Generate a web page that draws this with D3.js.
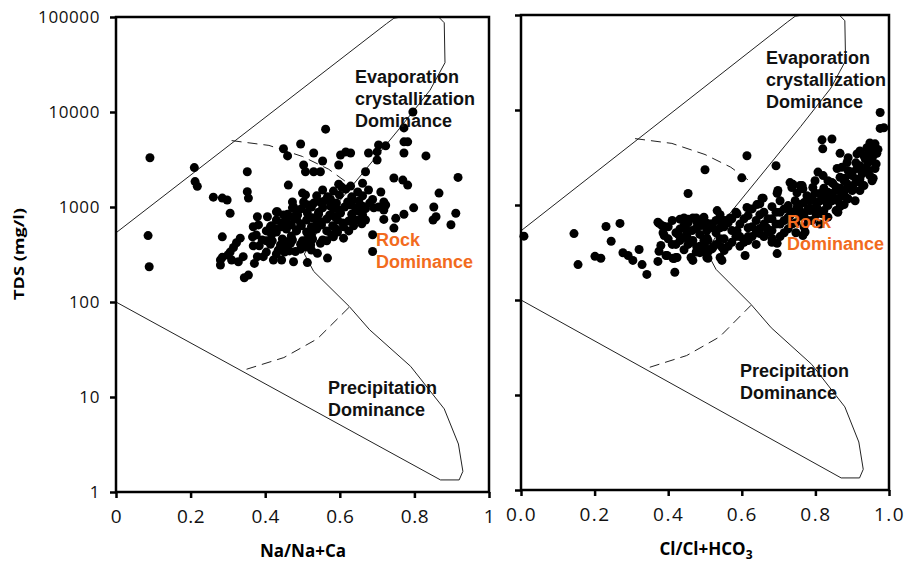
<!DOCTYPE html>
<html>
<head>
<meta charset="utf-8">
<title>Gibbs diagram</title>
<script src="https://d3js.org/d3.v7.min.js"></script>
<style>
  body { margin: 0; background: #fff; }
  svg text { font-family: "Open Sans", "Liberation Sans", sans-serif; }
  .tick text { font-family: "Open Sans", sans-serif; fill: #111; }
  .zone { font-family: "Liberation Sans", Arial, sans-serif !important; font-weight: bold; font-size: 18px; }
</style>
</head>
<body>
<script>
// tick values and labels
var tdsTicks = [1, 10, 100, 1000, 10000, 100000];
var ratioTicks = [0, 0.2, 0.4, 0.6, 0.8, 1];

// Gibbs boundary (ratio, TDS mg/l)
var outerBoundary = [
  [0, 535], [0.725, 85000], [0.745, 97000], [0.765, 100000], [0.865, 100000],
  [0.88, 87000], [0.882, 33000], [0.842, 17000], [0.76, 6700], [0.56, 750],
  [0.505, 320], [0.53, 210], [0.625, 90], [0.68, 51], [0.79, 21], [0.88, 7.5],
  [0.918, 3.2], [0.93, 1.65], [0.92, 1.34], [0.87, 1.34], [0, 100]
];
var dashUpper = [[0.31, 5000], [0.41, 4450], [0.5, 3400], [0.57, 2500], [0.62, 1800]];
var dashLower = [[0.35, 19.6], [0.45, 26], [0.54, 41], [0.625, 88]];

// Na/(Na+Ca) vs TDS
var naPoints = [
  [0.091,3300],[0.21,2600],[0.212,1850],[0.218,1650],[0.086,500],[0.089,235],
  [0.352,2350],[0.261,1270],[0.285,1240],[0.298,1185],[0.352,1450],[0.355,1240],
  [0.306,860],[0.285,485],[0.379,790],[0.406,790],[0.368,620],[0.382,648],
  [0.462,1700],[0.50,1400],[0.508,1340],[0.473,1130],[0.476,1000],[0.548,1130],
  [0.433,890],[0.449,825],[0.333,470],[0.323,420],[0.315,375],[0.306,335],
  [0.285,295],[0.28,245],[0.355,192],[0.344,180],[0.379,300],[0.476,265],
  [0.513,260],[0.54,325],[0.567,290],[0.583,485],[0.61,470],[0.562,6600],
  [0.495,4600],[0.449,4100],[0.46,3450],[0.53,3700],[0.554,3050],[0.503,2770],
  [0.508,2350],[0.602,3530],[0.616,3800],[0.629,3700],[0.597,2770],[0.53,2350],
  [0.548,2350],[0.677,3700],[0.70,3800],[0.70,3120],[0.704,4500],[0.723,4400],
  [0.772,4850],[0.782,4850],[0.772,3700],[0.772,6800],[0.796,10000],[0.831,3450],
  [0.669,2350],[0.745,2020],[0.769,1920],[0.782,1700],[0.917,2050],[0.866,1400],
  [0.852,1000],[0.858,790],[0.85,730],[0.911,860],[0.898,650],[0.798,980],
  [0.772,840],[0.75,760],[0.718,740],[0.745,600],[0.688,510],[0.688,340],
  [0.71,1440],[0.718,1130],[0.691,980],[0.669,730],[0.688,1200],[0.723,1050],
  [0.718,930],[0.704,1000],
  [0.28,277],[0.30,312],[0.31,277],[0.328,265],[0.341,300],[0.366,485],
  [0.376,508],[0.368,390],[0.384,390],[0.371,255],[0.395,300],[0.403,335],
  [0.422,277],[0.43,320],[0.444,277],[0.452,335],[0.414,620],[0.43,890],
  [0.597,1740],[0.629,1660],[0.661,1780],
  [0.554,1510],[0.583,1470],[0.616,1540],[0.648,1440],[0.677,1510],
  [0.538,1310],[0.567,1280],[0.599,1340],[0.632,1280],[0.661,1310],
  [0.503,1130],[0.53,1100],[0.559,1160],[0.591,1100],[0.621,1130],[0.651,1160],[0.68,1100],
  [0.473,980],[0.497,960],[0.524,1000],[0.554,980],[0.583,960],[0.613,1000],[0.642,980],[0.669,960],
  [0.46,840],[0.487,825],[0.513,865],[0.543,840],[0.573,825],[0.602,865],[0.632,840],[0.661,825],
  [0.43,730],[0.457,712],[0.484,748],[0.511,730],[0.538,712],[0.565,748],[0.594,730],[0.624,712],[0.648,730],
  [0.417,635],[0.444,620],[0.47,648],[0.497,635],[0.524,620],[0.551,648],[0.581,635],[0.61,620],[0.637,635],
  [0.403,560],[0.43,545],[0.457,585],[0.484,560],[0.511,545],[0.538,585],[0.565,560],[0.594,545],[0.624,560],
  [0.392,450],[0.419,440],[0.446,460],[0.473,450],[0.50,440],[0.527,460],[0.554,450],
  [0.414,405],[0.441,398],[0.468,415],[0.495,405],[0.522,398],[0.548,415],
  [0.435,352],[0.465,345],[0.495,360],[0.524,352],
  [0.484,905],[0.543,880],[0.597,930],[0.651,905],
  [0.444,680],[0.495,665],[0.551,695],[0.608,680],[0.659,665],
  [0.43,590],[0.484,575],[0.538,605],[0.589,590],
  [0.417,510],[0.47,495],[0.524,520],[0.578,510],
  [0.403,440],[0.457,430],[0.511,450],[0.565,440],
  [0.454,390],[0.508,380],[0.481,340],
  [0.473,790],[0.527,770],[0.586,790],[0.634,770],
  [0.575,1210],[0.634,1185],[0.605,1620],
  [0.516,1050],[0.575,1020],[0.629,1050],[0.661,1020]
];

// Cl/(Cl+HCO3) vs TDS
var clPoints = [
  [0.008,470],[0.144,500],[0.155,236],[0.231,594],[0.269,640],[0.245,415],
  [0.201,288],[0.217,275],[0.277,314],[0.291,294],[0.304,261],[0.321,340],
  [0.329,236],[0.342,186],[0.375,640],[0.389,594],[0.389,477],[0.38,375],
  [0.375,326],[0.372,255],[0.394,294],[0.416,273],[0.421,280],[0.418,196],
  [0.427,490],[0.454,1320],[0.50,2350],[0.432,710],[0.443,730],[0.454,710],
  [0.476,730],[0.451,538],[0.451,465],[0.462,280],[0.467,261],[0.489,608],
  [0.503,650],[0.614,3300],[0.60,1930],[0.693,2590],[0.533,873],[0.614,940],
  [0.641,1010],[0.658,1180],[0.696,1330],[0.739,1650],[0.764,1600],[0.818,4850],
  [0.845,4950],[0.82,3900],[0.867,3500],[0.976,9400],[0.976,6400],[0.986,6500],
  [0.948,4500],[0.962,4400],[0.967,3500],[0.97,3850],[0.94,4000],[0.943,3500],
  [0.957,3300],[0.921,3700],[0.913,3450],[0.889,3150],[0.886,2800],[0.872,2500],
  [0.859,2420],[0.935,3080],[0.943,2800],[0.962,2420],[0.948,2040],[0.957,1910],
  [0.94,2420],[0.913,2420],[0.927,2130],[0.921,1730],[0.90,2220],[0.88,1910],
  [0.886,1680],[0.902,1600],[0.90,1420],[0.908,1110],[0.807,2220],[0.821,2040],
  [0.834,1800],[0.848,1680],[0.799,1800],[0.793,1530],[0.799,1340],[0.8125,1320],
  [0.832,1200],[0.845,1320],[0.859,1420],[0.872,1255],[0.861,1110],[0.886,1180],
  [0.731,1720],[0.736,1530],[0.75,1340],[0.758,1600],[0.766,1480],[0.777,1255],
  [0.785,1110],[0.698,1420],[0.704,1110],[0.655,1180],[0.649,1030],[0.587,810],
  [0.745,1110],[0.75,940],[0.723,920],[0.731,774],[0.758,873],[0.785,873],
  [0.804,940],[0.818,810],[0.832,1030],[0.861,840],[0.554,686],[0.541,575],
  [0.514,630],[0.50,608],[0.492,650],[0.505,450],[0.50,360],[0.522,360],
  [0.546,360],[0.505,280],[0.546,261],[0.609,294],[0.696,308],[0.766,477],
  [0.587,538],[0.617,465],[0.649,500],[0.668,575],[0.372,660],[0.383,608],
  [0.386,510],[0.397,294],[0.413,275],[0.424,280],[0.467,730],[0.478,660],
  [0.495,686],[0.505,538],[0.522,575],[0.427,500],[0.451,520],[0.467,423],
  [0.478,360],[0.486,315],[0.546,686],[0.568,730],[0.495,322],[0.508,275],
  [0.541,280],[0.671,520],[0.682,445],[0.696,395],[0.772,520],
  [0.40,590],[0.40,440],[0.421,510],[0.421,385],[0.443,608],[0.443,455],[0.443,338],
  [0.465,538],[0.465,405],[0.486,650],[0.486,490],[0.486,368],[0.508,565],[0.508,423],[0.508,320],
  [0.53,686],[0.53,510],[0.53,385],[0.552,590],[0.552,440],[0.552,332],
  [0.573,715],[0.573,538],[0.573,405],[0.595,630],[0.595,465],[0.595,368],
  [0.617,774],[0.617,575],[0.617,423],[0.639,686],[0.639,510],[0.639,385],
  [0.66,840],[0.66,630],[0.66,465],[0.682,960],[0.682,715],[0.682,538],[0.682,405],
  [0.704,840],[0.704,630],[0.704,465],[0.726,985],[0.726,745],[0.726,560],
  [0.747,873],[0.747,650],[0.747,510],[0.769,1060],[0.769,790],[0.769,590],
  [0.791,1200],[0.791,910],[0.791,686],[0.8125,1110],[0.8125,840],[0.8125,630],
  [0.834,1360],[0.834,985],[0.834,745],[0.856,1550],[0.856,1160],[0.856,873],
  [0.878,1800],[0.878,1360],[0.878,1010],[0.90,2040],[0.90,1530],
  [0.921,2590],[0.921,1880],[0.921,1420],[0.943,2920],[0.943,2220],[0.965,3720],[0.965,2700],
  [0.411,686],[0.411,385],[0.432,560],[0.432,423],[0.454,650],[0.454,385],
  [0.476,565],[0.476,320],[0.497,745],[0.497,423],[0.519,630],[0.519,345],
  [0.541,790],[0.541,440],[0.563,650],[0.563,368],[0.584,840],[0.584,465],
  [0.606,715],[0.606,405],[0.628,910],[0.628,590],[0.628,465],[0.649,790],[0.649,565],
  [0.671,715],[0.671,538],[0.693,840],[0.693,630],[0.715,910],[0.715,686],[0.715,510],
  [0.736,840],[0.736,630],[0.758,1010],[0.758,760],[0.78,1200],[0.78,910],[0.78,686],
  [0.802,1060],[0.802,790],[0.823,1500],[0.823,1160],[0.823,873],[0.845,1720],[0.845,1110],
  [0.867,1960],[0.867,1500],[0.867,960],[0.889,2300],[0.889,1550],[0.889,1160],
  [0.91,2780],[0.91,1880],[0.932,3300],[0.932,2420],[0.932,1600],[0.954,3720],[0.954,2920],[0.954,1800]
];

var svg = d3.select("body").append("svg")
  .attr("width", 905)
  .attr("height", 562);

function drawPanel(cfg) {
  var x = d3.scaleLinear().domain([0, 1]).range([cfg.x0, cfg.x1]);
  var y = d3.scaleLog().domain([1, 100000]).range([cfg.y0, cfg.y1]);
  var g = svg.append("g");

  var line = d3.line()
    .x(function(d) { return x(d[0]); })
    .y(function(d) { return y(d[1]); });

  g.append("path").attr("d", line(outerBoundary))
    .attr("fill", "none").attr("stroke", "#222").attr("stroke-width", 1);
  g.append("path").attr("d", line(dashUpper))
    .attr("fill", "none").attr("stroke", "#222").attr("stroke-dasharray", "10,6");
  g.append("path").attr("d", line(dashLower))
    .attr("fill", "none").attr("stroke", "#222").attr("stroke-dasharray", "10,6");

  g.selectAll("circle").data(cfg.points).enter().append("circle")
    .attr("cx", function(d) { return x(d[0]); })
    .attr("cy", function(d) { return y(d[1]); })
    .attr("r", 4.5)
    .attr("fill", "#000");

  // frame
  g.append("rect")
    .attr("x", cfg.x0).attr("y", cfg.y1)
    .attr("width", cfg.x1 - cfg.x0).attr("height", cfg.y0 - cfg.y1)
    .attr("fill", "none").attr("stroke", "#000").attr("stroke-width", 2.5);

  var yAxis = d3.axisLeft(y).tickValues(tdsTicks).tickSize(6).tickPadding(10)
    .tickFormat(cfg.yLabels ? d3.format("d") : function() { return ""; });
  var ya = g.append("g").attr("transform", "translate(" + cfg.x0 + ",0)").call(yAxis);
  ya.select(".domain").remove();
  ya.selectAll("line").attr("stroke-width", 2.5);
  ya.selectAll("text").style("font-size", "17px").attr("letter-spacing", "0.6px");

  var xAxis = d3.axisBottom(x).tickValues(ratioTicks).tickSize(6).tickPadding(12)
    .tickFormat(cfg.xFormat);
  var xa = g.append("g").attr("transform", "translate(0," + cfg.y0 + ")").call(xAxis);
  xa.select(".domain").remove();
  xa.selectAll("line").attr("stroke-width", 2.5);
  xa.selectAll("text").style("font-size", cfg.xFont).attr("letter-spacing", cfg.xSpacing);

  // zone labels
  function label(lines, px, py, color) {
    var t = g.append("text").attr("class", "zone").attr("fill", color);
    lines.forEach(function(s, i) {
      t.append("tspan").attr("x", px).attr("y", py + i * 22).text(s);
    });
  }
  label(["Evaporation", "crystallization", "Dominance"], cfg.evap[0], cfg.evap[1], "#111");
  label(["Rock", "Dominance"], cfg.rock[0], cfg.rock[1], "#f26b1e");
  label(["Precipitation", "Dominance"], cfg.prec[0], cfg.prec[1], "#111");
}

drawPanel({
  x0: 116, x1: 489, y0: 492, y1: 17,
  points: naPoints, yLabels: true,
  xFormat: function(d) { return d === 0 || d === 1 ? d3.format("d")(d) : d3.format(".1f")(d); },
  xFont: "19px", xSpacing: "0.5px",
  evap: [355, 83], rock: [376, 246], prec: [328, 394]
});

drawPanel({
  x0: 521, x1: 889, y0: 490, y1: 15,
  points: clPoints, yLabels: false,
  xFormat: d3.format(".1f"),
  xFont: "19px", xSpacing: "1.5px",
  evap: [766, 64], rock: [787, 228], prec: [740, 377]
});

// axis titles
svg.append("text")
  .attr("transform", "translate(24,254) rotate(-90)")
  .attr("text-anchor", "middle")
  .style("font-weight", "bold").style("font-size", "14px")
  .attr("textLength", 92).attr("lengthAdjust", "spacingAndGlyphs")
  .text("TDS (mg/l)");

svg.append("text")
  .attr("x", 303).attr("y", 557)
  .attr("text-anchor", "middle")
  .style("font-weight", "bold").style("font-size", "17px")
  .text("Na/Na+Ca");

var clTitle = svg.append("text")
  .attr("x", 706).attr("y", 555)
  .attr("text-anchor", "middle")
  .style("font-weight", "bold").style("font-size", "17px");
clTitle.append("tspan").text("Cl/Cl+HCO");
clTitle.append("tspan").attr("dy", 4).style("font-size", "12px").text("3");
</script>
</body>
</html>
